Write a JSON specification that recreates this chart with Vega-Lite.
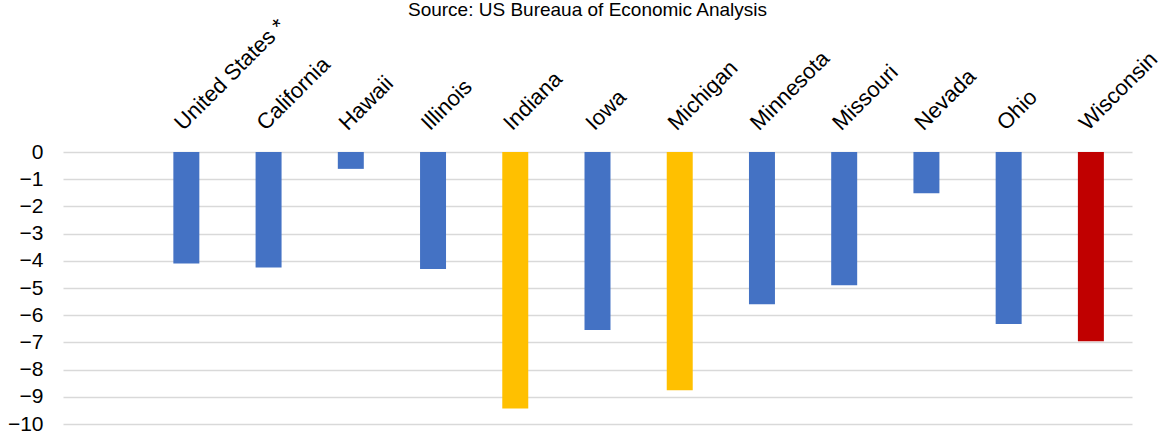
{
  "$schema": "https://vega.github.io/schema/vega-lite/v6.json",
  "width": 1069,
  "height": 272,
  "autosize": {"type": "none"},
  "padding": {"left": 63, "top": 152, "right": 43, "bottom": 10},
  "background": "white",
  "title": {
    "text": "Source: US Bureaua of Economic Analysis",
    "font": "Liberation Sans",
    "fontSize": 19,
    "fontWeight": "normal",
    "color": "#000000",
    "anchor": "middle",
    "dx": -10,
    "dy": 7,
    "offset": 2
  },
  "config": {"view": {"stroke": null}},
  "data": {
    "values": [
      {"state": "United States *", "change": -4.1, "group": "Other"},
      {"state": "California", "change": -4.25, "group": "Other"},
      {"state": "Hawaii", "change": -0.62, "group": "Other"},
      {"state": "Illinois", "change": -4.3, "group": "Other"},
      {"state": "Indiana", "change": -9.43, "group": "Highlighted"},
      {"state": "Iowa", "change": -6.54, "group": "Other"},
      {"state": "Michigan", "change": -8.76, "group": "Highlighted"},
      {"state": "Minnesota", "change": -5.6, "group": "Other"},
      {"state": "Missouri", "change": -4.9, "group": "Other"},
      {"state": "Nevada", "change": -1.52, "group": "Other"},
      {"state": "Ohio", "change": -6.32, "group": "Other"},
      {"state": "Wisconsin", "change": -6.96, "group": "Wisconsin"}
    ]
  },
  "mark": {"type": "bar"},
  "encoding": {
    "x": {
      "field": "state",
      "type": "nominal",
      "sort": null,
      "scale": {
        "domain": ["", "United States *", "California", "Hawaii", "Illinois", "Indiana", "Iowa", "Michigan", "Minnesota", "Missouri", "Nevada", "Ohio", "Wisconsin"],
        "paddingInner": 0.684,
        "paddingOuter": 0.342
      },
      "axis": {
        "orient": "top",
        "title": null,
        "labelAngle": -45,
        "labelAlign": "left",
        "labelBaseline": "alphabetic",
        "labelPadding": 21,
        "labelOffset": -3,
        "labelFont": "Liberation Sans",
        "labelFontSize": 22,
        "labelColor": "#000000",
        "labelOverlap": false,
        "labelBound": false,
        "labelLimit": 300,
        "ticks": false,
        "domain": false,
        "grid": false
      }
    },
    "y": {
      "field": "change",
      "type": "quantitative",
      "scale": {"domain": [-10, 0], "nice": false},
      "axis": {
        "title": null,
        "values": [0, -1, -2, -3, -4, -5, -6, -7, -8, -9, -10],
        "labelFont": "Liberation Sans",
        "labelFontSize": 21,
        "labelColor": "#000000",
        "labelPadding": 20,
        "ticks": false,
        "domain": false,
        "grid": true,
        "gridColor": "#D9D9D9",
        "gridWidth": 1.5
      }
    },
    "color": {
      "field": "group",
      "type": "nominal",
      "scale": {"domain": ["Other", "Highlighted", "Wisconsin"], "range": ["#4472C4", "#FFC000", "#C00000"]},
      "legend": null
    }
  }
}
